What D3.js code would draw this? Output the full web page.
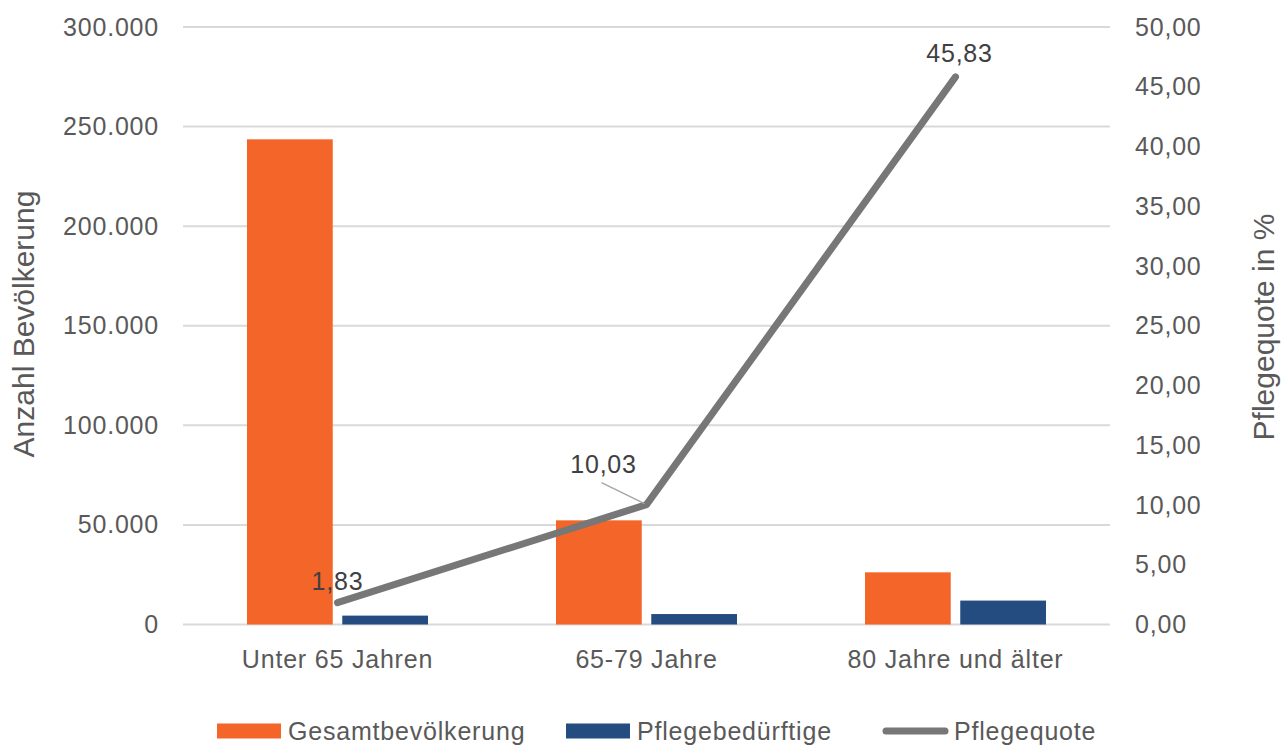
<!DOCTYPE html>
<html>
<head>
<meta charset="utf-8">
<script src="https://cdn.jsdelivr.net/npm/d3@7"></script>
<style>
  html, body { margin: 0; padding: 0; background: #fff; }
  svg { display: block; font-family: "Liberation Sans", Arial, sans-serif; }
  .lbl { font-size: 25px; letter-spacing: 0.8px; }
</style>
</head>
<body>
<svg id="chart" width="1282" height="747"></svg>
<script>
// Altersgruppen und Werte
const categories = ["Unter 65 Jahren", "65-79 Jahre", "80 Jahre und älter"];
const gesamtbevoelkerung = [243600, 52300, 26200];
const pflegebeduerftige = [4460, 5250, 12010];
const pflegequote = [1.83, 10.03, 45.83];
const leftTicks = [0, 50000, 100000, 150000, 200000, 250000, 300000];
const rightTicks = [0, 5, 10, 15, 20, 25, 30, 35, 40, 45, 50];
const seriesNames = ["Gesamtbevölkerung", "Pflegebedürftige", "Pflegequote"];

const colors = { orange: "#f36528", blue: "#244c80", grey: "#777777", text: "#595959", label: "#404040", grid: "#d9d9d9" };

const svg = d3.select("#chart");
const plot = { left: 183, right: 1110, top: 27, bottom: 624.5 };

const x = d3.scaleBand().domain(categories).range([plot.left, plot.right]).paddingInner(0).paddingOuter(0);
const xInner = d3.scaleBand().domain(seriesNames.slice(0, 2)).range([-90.5, 90.5]).paddingInner(0.1);
const yLeft = d3.scaleLinear().domain([0, 300000]).range([plot.bottom, plot.top]);
const yRight = d3.scaleLinear().domain([0, 50]).range([plot.bottom, plot.top]);

const fmtLeft = v => v === 0 ? "0" : d3.format(",")(v).replace(/,/g, ".");
const fmtRight = v => d3.format(".2f")(v).replace(".", ",");

// Gitterlinien
svg.append("g").selectAll("line").data(leftTicks).join("line")
  .attr("x1", plot.left).attr("x2", plot.right)
  .attr("y1", d => yLeft(d)).attr("y2", d => yLeft(d))
  .attr("stroke", colors.grid).attr("stroke-width", 2);

// Linke Achse
const axL = d3.axisLeft(yLeft).tickValues(leftTicks).tickFormat(fmtLeft).tickSize(0).tickPadding(24);
svg.append("g").attr("transform", `translate(${plot.left},0)`).call(axL)
  .call(g => g.select(".domain").remove())
  .selectAll("text").attr("class", "lbl").attr("fill", colors.text).attr("font-family", null).attr("font-size", null);

// Rechte Achse
const axR = d3.axisRight(yRight).tickValues(rightTicks).tickFormat(fmtRight).tickSize(0).tickPadding(25);
svg.append("g").attr("transform", `translate(${plot.right},0)`).call(axR)
  .call(g => g.select(".domain").remove())
  .selectAll("text").attr("class", "lbl").attr("fill", colors.text).attr("font-family", null).attr("font-size", null);

// Kategorienachse
const axB = d3.axisBottom(x).tickSize(0).tickPadding(26);
svg.append("g").attr("transform", `translate(0,${plot.bottom})`).call(axB)
  .call(g => g.select(".domain").remove())
  .selectAll("text").attr("class", "lbl").attr("fill", colors.text).attr("font-family", null).attr("font-size", null);

// Balken
const groups = svg.append("g").selectAll("g").data(categories).join("g")
  .attr("transform", d => `translate(${x(d) + x.bandwidth() / 2},0)`);

groups.append("rect")
  .attr("x", xInner(seriesNames[0]))
  .attr("width", xInner.bandwidth())
  .attr("y", (d, i) => yLeft(gesamtbevoelkerung[i]))
  .attr("height", (d, i) => plot.bottom - yLeft(gesamtbevoelkerung[i]))
  .attr("fill", colors.orange);

groups.append("rect")
  .attr("x", xInner(seriesNames[1]))
  .attr("width", xInner.bandwidth())
  .attr("y", (d, i) => yLeft(pflegebeduerftige[i]))
  .attr("height", (d, i) => plot.bottom - yLeft(pflegebeduerftige[i]))
  .attr("fill", colors.blue);

// Linie Pflegequote
const pts = categories.map((c, i) => [x(c) + x.bandwidth() / 2, yRight(pflegequote[i])]);
svg.append("path")
  .attr("d", d3.line()(pts))
  .attr("fill", "none").attr("stroke", colors.grey).attr("stroke-width", 7)
  .attr("stroke-linecap", "round").attr("stroke-linejoin", "round");

// Datenbeschriftungen
const labelOffsets = [[0, -13], [-43, -32], [4, -15]];
svg.append("g").selectAll("text").data(pflegequote).join("text")
  .attr("class", "lbl")
  .attr("x", (d, i) => pts[i][0] + labelOffsets[i][0])
  .attr("y", (d, i) => pts[i][1] + labelOffsets[i][1])
  .attr("text-anchor", "middle")
  .attr("fill", colors.label)
  .text(d => fmtRight(d));

// Führungslinie zur mittleren Beschriftung
svg.append("line")
  .attr("x1", pts[1][0] - 45).attr("y1", pts[1][1] - 22)
  .attr("x2", pts[1][0] - 2).attr("y2", pts[1][1] - 1)
  .attr("stroke", "#a6a6a6").attr("stroke-width", 1.5);

// Achsentitel
svg.append("text")
  .attr("transform", `translate(34,${324}) rotate(-90)`)
  .attr("text-anchor", "middle").attr("fill", colors.text).style("font-size", "30px")
  .text("Anzahl Bevölkerung");
svg.append("text")
  .attr("transform", `translate(1274,${327}) rotate(-90)`)
  .attr("text-anchor", "middle").attr("fill", colors.text).style("font-size", "30px")
  .text("Pflegequote in %");

// Legende
const legend = svg.append("g").attr("transform", "translate(0,731)");
const legendItems = [
  { name: seriesNames[0], x: 217, type: "rect", color: colors.orange },
  { name: seriesNames[1], x: 566, type: "rect", color: colors.blue },
  { name: seriesNames[2], x: 883, type: "line", color: colors.grey }
];
legendItems.forEach(it => {
  if (it.type === "rect") {
    legend.append("rect").attr("x", it.x).attr("y", -7.5).attr("width", 64).attr("height", 15).attr("fill", it.color);
  } else {
    legend.append("line").attr("x1", it.x + 3).attr("x2", it.x + 62).attr("y1", 0).attr("y2", 0)
      .attr("stroke", it.color).attr("stroke-width", 7).attr("stroke-linecap", "round");
  }
  legend.append("text").attr("class", "lbl").attr("x", it.x + 71).attr("y", 0).attr("dy", "0.35em")
    .attr("fill", colors.text).text(it.name);
});
</script>
</body>
</html>
